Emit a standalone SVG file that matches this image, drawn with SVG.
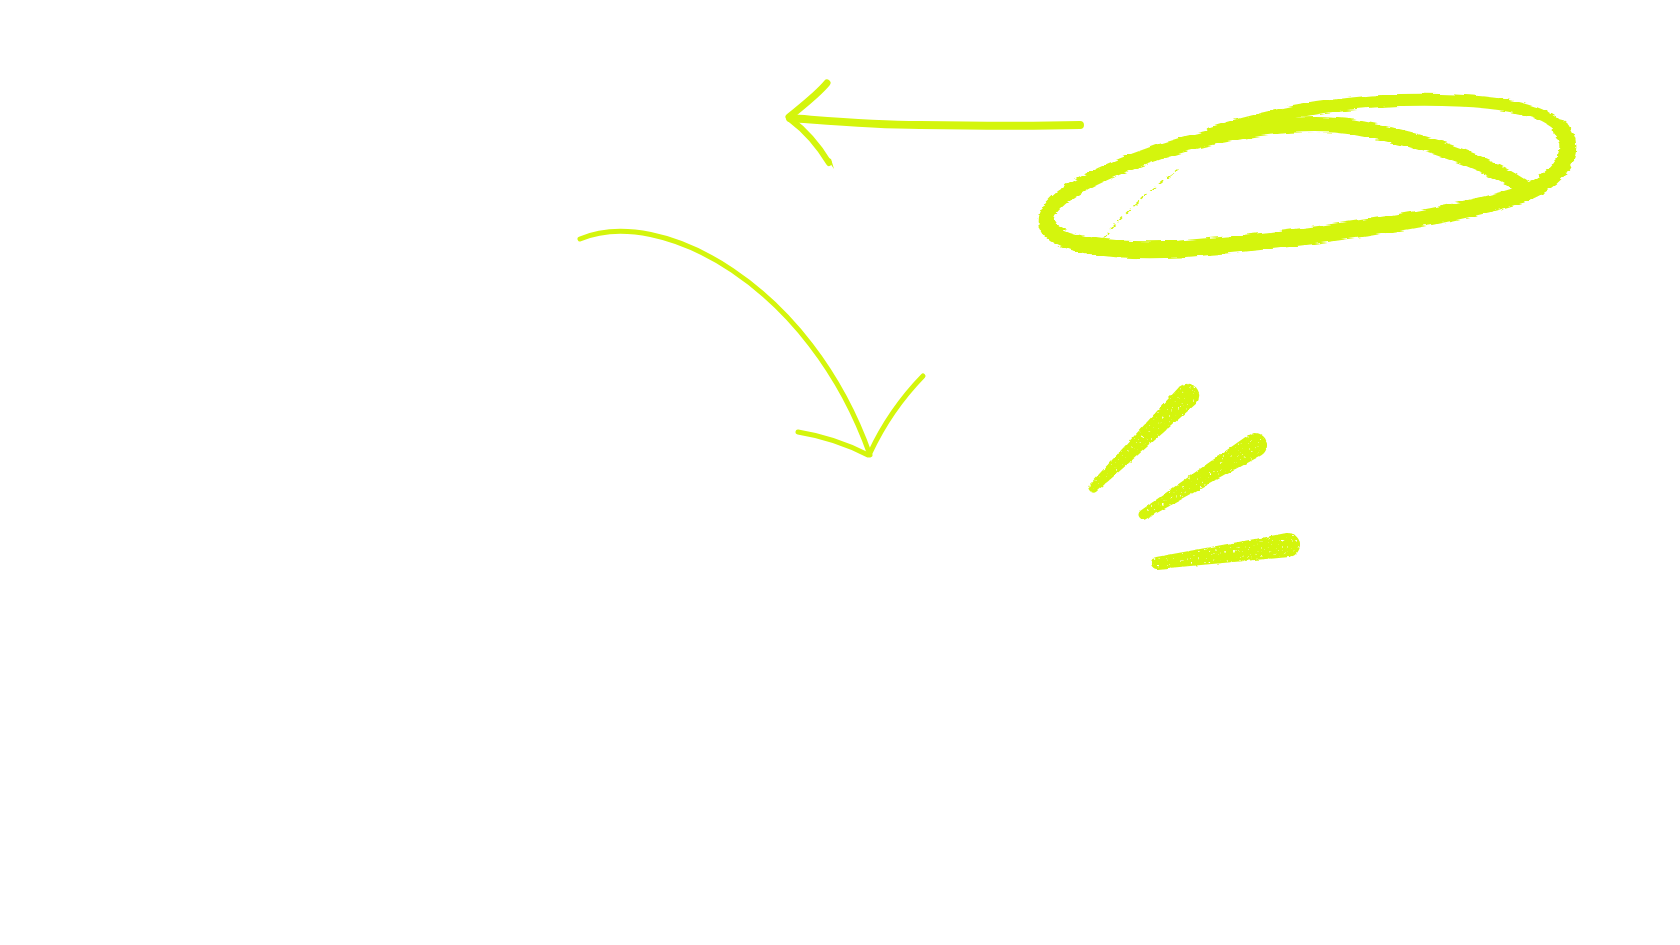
<svg xmlns="http://www.w3.org/2000/svg" width="1680" height="945" viewBox="0 0 1680 945">
  <style>
    .ink { fill: none; stroke: #d4f50c; stroke-linecap: round; stroke-linejoin: round; }
    .blob { fill: #d4f50c; stroke: none; }
  </style>
  <defs>
    <filter id="rough" x="-5%" y="-10%" width="110%" height="120%">
      <feTurbulence type="fractalNoise" baseFrequency="0.05 0.3" numOctaves="2" seed="3" result="n"/>
      <feDisplacementMap in="SourceGraphic" in2="n" scale="5" xChannelSelector="R" yChannelSelector="G"/>
    </filter>
    <filter id="grain" x="-10%" y="-10%" width="120%" height="120%">
      <feTurbulence type="fractalNoise" baseFrequency="0.45" numOctaves="1" seed="7" result="t"/>
      <feColorMatrix in="t" type="matrix" values="0 0 0 0 0  0 0 0 0 0  0 0 0 0 0  -8 0 0 0 6.2" result="m"/>
      <feComposite in="SourceGraphic" in2="m" operator="in" result="g"/>
      <feTurbulence type="fractalNoise" baseFrequency="0.15" numOctaves="2" seed="2" result="n2"/>
      <feDisplacementMap in="g" in2="n2" scale="3" xChannelSelector="R" yChannelSelector="G"/>
    </filter>
  </defs>
  <rect width="1680" height="945" fill="#ffffff"/>

  <g id="connectors">
    <g id="arrow-left">
      <path class="ink" stroke-width="8" d="M790 118 C 830 121 870 125 920 125 C 980 126 1040 126 1080 125"/>
      <path class="ink" stroke-width="7" d="M789 117 C 805 104 818 94 827 83"/>
      <path class="ink" stroke-width="6" d="M790 119 C 806 131 820 148 829 163"/>
      <path class="blob" d="M826 157 L834 169 L831 159 Z"/>
    </g>
    <g id="arrow-curved">
      <path class="ink" stroke-width="5" d="M580 239 C 660 205 810 285 870 455"/>
      <path class="ink" stroke-width="5" d="M798 432 Q 835 438 868 455"/>
      <path class="ink" stroke-width="5" d="M923 376 Q 890 410 870 453"/>
    </g>
  </g>

  <g id="ellipse" filter="url(#rough)">
    <path class="ink" stroke-width="15" d="M1527 190 C1500 170 1440 142 1353 127 C1290 118 1200 135 1131 162 C1080 182 1040 205 1047 225"/>
    <path class="ink" stroke-width="17" d="M1047 225 C1055 245 1110 252 1180 249 C1300 240 1440 220 1520 195 C1560 180 1580 150 1560 128"/>
    <path class="ink" stroke-width="12" d="M1560 128 C1540 105 1480 98 1400 100 C1320 103 1260 118 1212 133"/>
    <path class="ink" stroke-width="1.5" stroke-dasharray="6 5" d="M1104 238 C1125 212 1150 190 1178 170"/>
  </g>

  <g id="hatches" filter="url(#grain)">
    <path class="blob" d="M1089.5 484.5 L1179.6 386.5 A12 12 0 0 1 1196.4 403.5 L1096.5 491.5 A5 5 0 0 1 1089.5 484.5 Z"/>
    <path class="blob" d="M1140.4 510.8 L1248.6 434.8 A12 12 0 0 1 1261.4 455.2 L1145.6 519.2 A5 5 0 0 1 1140.4 510.8 Z"/>
    <path class="blob" d="M1156.2 557.0 L1286.4 533.1 A12 12 0 0 1 1289.6 556.9 L1157.8 569.0 A6 6 0 0 1 1156.2 557.0 Z"/>
  </g>
</svg>
